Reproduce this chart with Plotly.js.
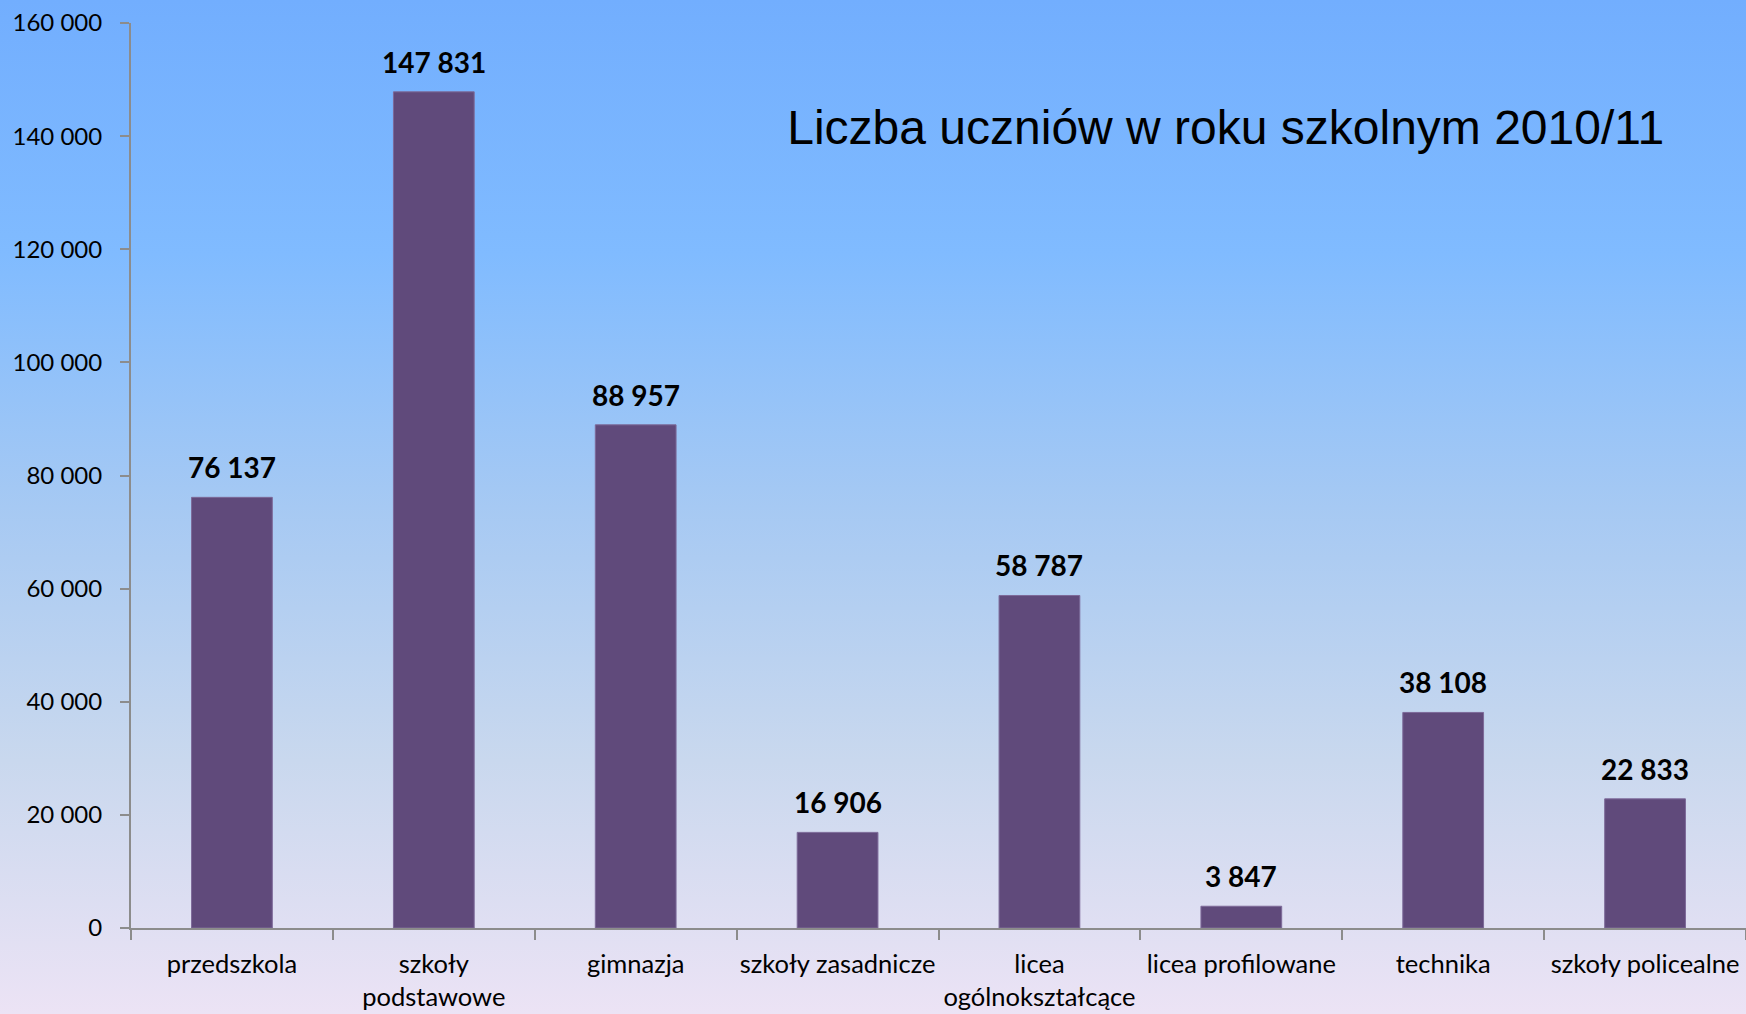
<!DOCTYPE html>
<html>
<head>
<meta charset="utf-8">
<script src="https://cdn.plot.ly/plotly-3.0.1.min.js"></script>
<style>
  html, body { margin: 0; padding: 0; }
  #chart {
    width: 1746px; height: 1014px;
    background: linear-gradient(to bottom, #72aefe 0%, #80bbff 25%, #a6c9f3 50%, #c9d8ee 75%, #ece3f5 100%);
  }
</style>
</head>
<body>
<div id="chart"></div>
<script>
const categories = ["przedszkola", "szkoły<br>podstawowe", "gimnazja", "szkoły zasadnicze",
  "licea<br>ogólnokształcące", "licea profilowane", "technika", "szkoły policealne"];
const students = [76137, 147831, 88957, 16906, 58787, 3847, 38108, 22833];
const yTicks = [0, 20000, 40000, 60000, 80000, 100000, 120000, 140000, 160000];
const titleText = "Liczba uczniów w roku szkolnym 2010/11";

function fmt(v) { return String(v).replace(/\B(?=(\d{3})+(?!\d))/g, " "); }

const trace = {
  type: "bar",
  x: categories,
  y: students,
  width: 0.4,
  marker: { color: "#604a7b", line: { color: "#7d6a99", width: 1 } },
  hoverinfo: "none"
};

const annotations = categories.map((c, i) => ({
  x: c, y: students[i], xref: "x", yref: "y",
  text: "<b>" + fmt(students[i]) + "</b>",
  showarrow: false, yanchor: "bottom", yshift: 11,
  font: { family: "Lato, sans-serif", size: 28, color: "#000" }
}));

const layout = {
  width: 1746, height: 1014,
  paper_bgcolor: "rgba(0,0,0,0)",
  plot_bgcolor: "rgba(0,0,0,0)",
  margin: { l: 131, r: 0, t: 23, b: 86 },
  separators: ", ",
  showlegend: false,
  title: {
    text: titleText,
    xref: "container", yref: "container",
    x: 0.702, xanchor: "center",
    y: 0.875, yanchor: "middle",
    font: { family: "Liberation Sans, Arial, sans-serif", size: 48, color: "#000" }
  },
  xaxis: {
    type: "category",
    range: [-0.5, 7.5],
    showline: true, linecolor: "#8c8c8c", linewidth: 2,
    ticks: "outside", tickson: "boundaries", ticklen: 10, tickcolor: "#8c8c8c", tickwidth: 2,
    showgrid: false, zeroline: false,
    tickangle: 0,
    tickfont: { family: "Lato, sans-serif", size: 25.5, color: "#000" },
    ticklabelstandoff: 12
  },
  yaxis: {
    range: [0, 160000],
    tickvals: yTicks,
    ticktext: yTicks.map(fmt),
    showline: true, linecolor: "#8c8c8c", linewidth: 2,
    ticks: "outside", ticklen: 9, tickcolor: "#8c8c8c", tickwidth: 2,
    showgrid: false, zeroline: false,
    tickfont: { family: "Lato, sans-serif", size: 24, color: "#000" },
    ticklabelstandoff: 13
  },
  annotations: annotations,
  bargap: 0.6
};

Plotly.newPlot("chart", [trace], layout, { displayModeBar: false, staticPlot: true });
</script>
</body>
</html>
